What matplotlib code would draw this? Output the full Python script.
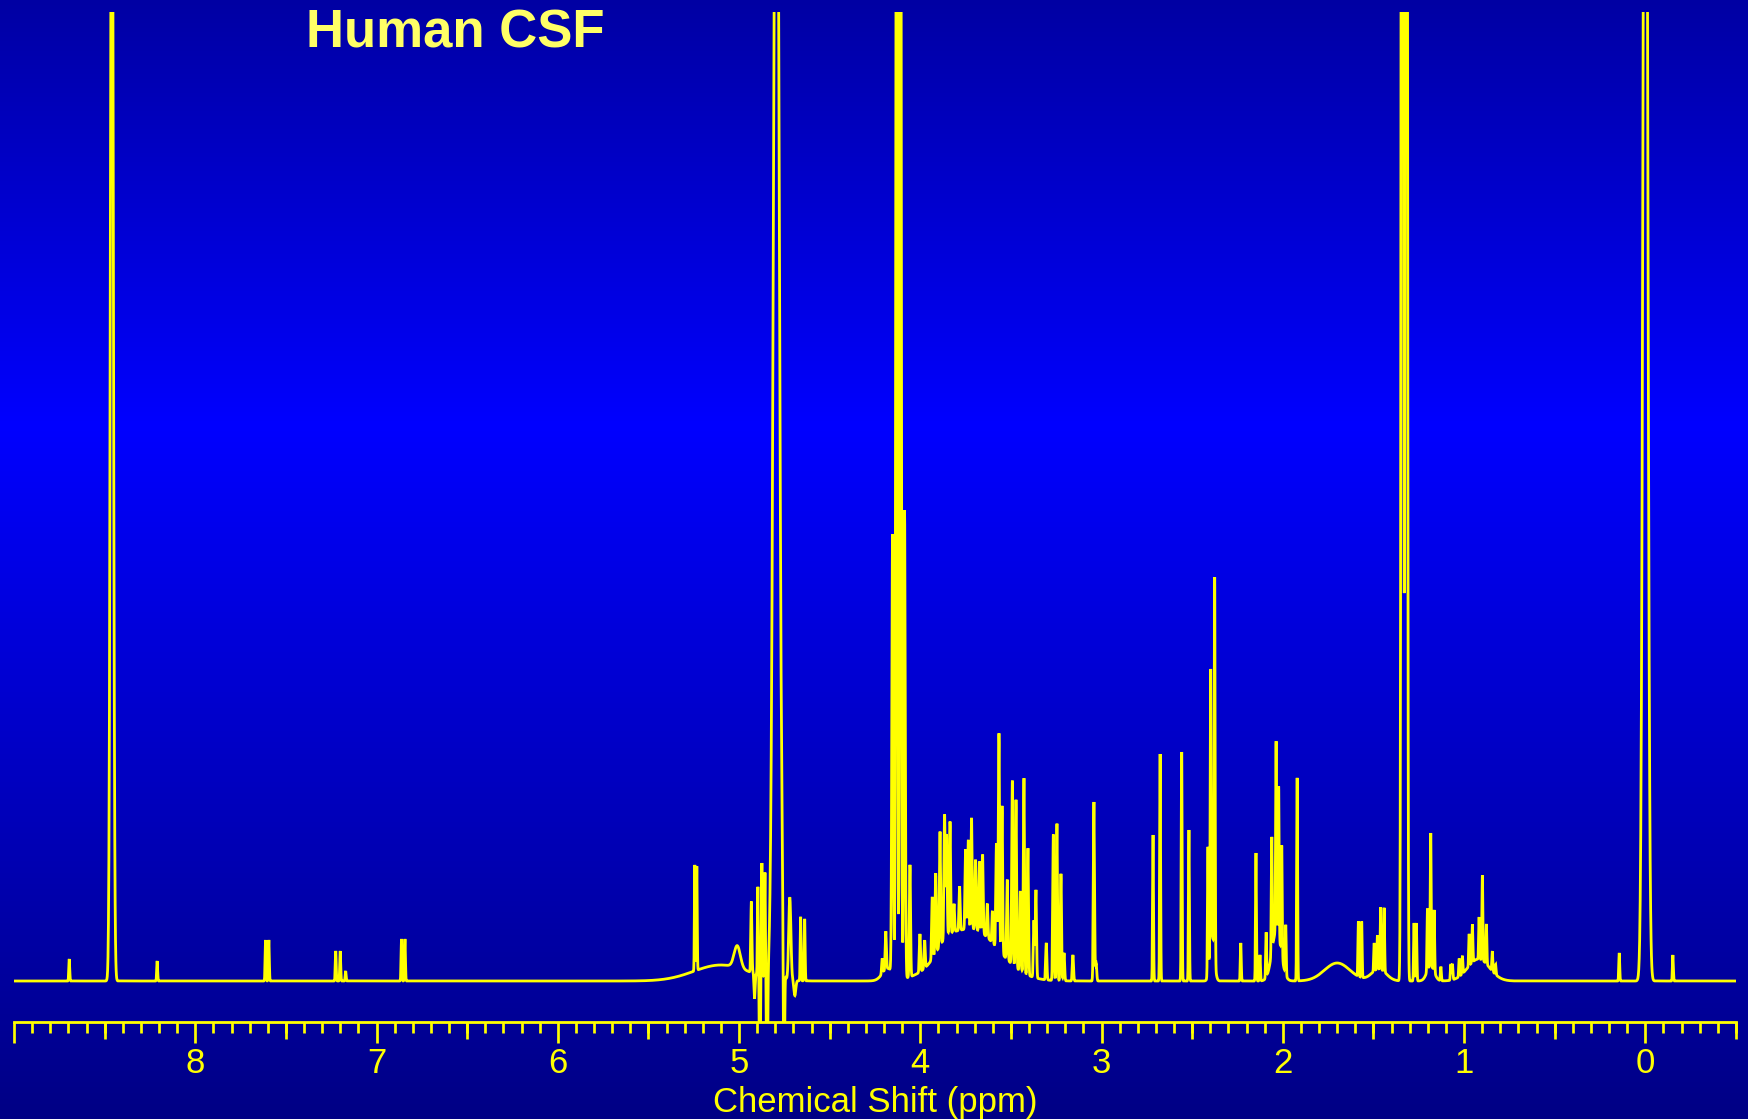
import numpy as np
import matplotlib
matplotlib.use("Agg")
import matplotlib.pyplot as plt
from matplotlib.ticker import FixedLocator, MultipleLocator

# ---------------- data (ppm, intensity, Gaussian width) ----------------
# very intense lines (formate, water, lactate quartet, lactate doublet, TSP)
big_ppm = [8.460, 4.794, 4.153, 4.131, 4.109, 4.087, 1.341, 1.319, 0.000]
big_height = [1310, 1372, 438, 1400, 1400, 468, 3000, 3000, 1650]
big_sigma = [0.0076, 0.015, 0.004, 0.004, 0.004, 0.004, 0.0047, 0.0047, 0.0116]

# aromatic region
arom_ppm = [8.695, 8.210, 7.612, 7.594, 7.225, 7.200, 7.170, 6.862, 6.843]
arom_height = [22, 20, 41, 41, 30, 30, 10, 42, 42]

# anomeric / residual-water region (negative values = suppression artefacts)
anom_ppm = [5.244, 5.233, 4.932, 4.914, 4.896, 4.885, 4.874, 4.857, 4.845,
            4.752, 4.720, 4.692, 4.660, 4.638]
anom_height = [106, 104, 71, -25, 88, -130, 113, 104, -150,
               -170, 83, -15, 64, 62]
anom_sigma = [0.0022, 0.0022, 0.003, 0.003, 0.0025, 0.003, 0.0025, 0.0025, 0.003,
              0.003, 0.006, 0.005, 0.0025, 0.0025]

# 3.0 - 4.25 ppm (sugars, amino acids, creatinine)
mid_ppm = [4.210, 4.190, 4.057, 4.002, 3.976, 3.934, 3.915, 3.891, 3.866, 3.855,
           3.836, 3.814, 3.783, 3.750, 3.735, 3.717, 3.695, 3.673, 3.656, 3.630,
           3.602, 3.580, 3.566, 3.549, 3.520, 3.492, 3.472, 3.448, 3.428, 3.406,
           3.373, 3.362, 3.305, 3.266, 3.246, 3.224, 3.207, 3.158, 3.042, 3.030]
mid_height = [15, 38, 112, 38, 28, 62, 80, 114, 124, 102,
              112, 28, 44, 80, 89, 111, 70, 70, 79, 34,
              32, 104, 217, 148, 80, 184, 168, 80, 195, 127,
              57, 88, 37, 146, 157, 107, 28, 26, 179, 18]

# 0.8 - 2.8 ppm
ali_ppm = [2.716, 2.677, 2.558, 2.518, 2.413, 2.398, 2.376, 2.232, 2.148, 2.126,
           2.092, 2.061, 2.037, 2.023, 2.006, 1.984, 1.921, 1.583, 1.565, 1.496,
           1.478, 1.460, 1.441, 1.276, 1.263, 1.202, 1.184, 1.165, 1.128, 1.073,
           1.064, 1.027, 1.009, 0.972, 0.954, 0.917, 0.899, 0.877, 0.844, 0.826]
ali_height = [146, 227, 229, 151, 127, 276, 381, 38, 128, 26,
              45, 115, 190, 150, 110, 50, 203, 55, 56, 28,
              34, 62, 64, 58, 58, 62, 133, 62, 14, 16,
              16, 18, 18, 32, 38, 42, 85, 40, 20, 10]

# small lines upfield of TSP region
ref_ppm = [0.144, -0.152]
ref_height = [28, 26]

# broad underlying humps
broad_ppm = [5.10, 5.010, 4.180, 3.720, 3.860, 2.390, 2.035, 1.700, 1.470, 1.185, 0.920]
broad_height = [16, 22, 12, 52, 10, 45, 50, 18, 12, 15, 22]
broad_sigma = [0.15, 0.017, 0.030, 0.150, 0.050, 0.012, 0.025, 0.070, 0.040, 0.020, 0.060]

major_ticks = [9, 8, 7, 6, 5, 4, 3, 2, 1, 0]
major_labels = ["", "8", "7", "6", "5", "4", "3", "2", "1", "0"]
half_ticks = [8.5, 7.5, 6.5, 5.5, 4.5, 3.5, 2.5, 1.5, 0.5, -0.5]

title_text = "Human CSF"
xlabel_text = "Chemical Shift (ppm)"

# ---------------- build spectrum ----------------
ppm = np.arange(-0.5, 9.0 + 0.00025, 0.0005)


def gauss_sum(pos, hts, sig):
    pos = np.asarray(pos, float)[None, :]
    hts = np.asarray(hts, float)[None, :]
    sig = np.asarray(sig, float)[None, :]
    return (hts * np.exp(-((ppm[:, None] - pos) ** 2) / (2 * sig ** 2))).sum(axis=1)


SHARP = 0.0025
spec = (gauss_sum(big_ppm, big_height, big_sigma)
        + gauss_sum(arom_ppm, arom_height, [SHARP] * len(arom_ppm))
        + gauss_sum(anom_ppm, anom_height, anom_sigma)
        + gauss_sum(mid_ppm, mid_height, [0.0032] * len(mid_ppm))
        + gauss_sum(ali_ppm, ali_height, [SHARP] * len(ali_ppm))
        + gauss_sum(ref_ppm, ref_height, [SHARP] * len(ref_ppm))
        + gauss_sum(broad_ppm, broad_height, broad_sigma))

# ---------------- figure ----------------
W, H = 1748, 1119
fig = plt.figure(figsize=(W / 100, H / 100), dpi=100)

# background vertical gradient (dark blue -> bright blue -> navy)
bg = fig.add_axes([0, 0, 1, 1])
bg.set_axis_off()
t = np.linspace(0, 1, 600)
blue = np.interp(t, [0.0, 0.38, 1.0], [0.64, 1.0, 0.52])
grad = np.zeros((600, 1, 3))
grad[:, 0, 2] = blue
bg.imshow(grad, aspect="auto", extent=[0, 1, 0, 1], origin="upper", zorder=0)
bg.set_xlim(0, 1)
bg.set_ylim(0, 1)

yellow = "#FFFF00"
left, right = 14 / W, 1736 / W
bottom, top = (H - 1022) / H, (H - 12) / H
ax = fig.add_axes([left, bottom, right - left, top - bottom])
ax.set_facecolor("none")
ax.plot(ppm, spec, color=yellow, lw=2.0, solid_joinstyle="miter")
ax.set_xlim(9.0, -0.5)
ax.set_ylim(-41, 969)

for s in ("top", "left", "right"):
    ax.spines[s].set_visible(False)
ax.spines["bottom"].set_color(yellow)
ax.spines["bottom"].set_linewidth(2.0)
ax.set_yticks([])

ax.xaxis.set_major_locator(FixedLocator(major_ticks))
ax.set_xticklabels(major_labels)
ax.xaxis.set_minor_locator(MultipleLocator(0.1))
ax.tick_params(axis="x", which="major", direction="out", length=14.8, width=1.95,
               color=yellow, labelcolor=yellow, labelsize=25, pad=3.0)
ax.tick_params(axis="x", which="minor", direction="out", length=7.9, width=1.95,
               color=yellow)
for lab in ax.get_xticklabels():
    lab.set_family("Liberation Sans")

sec = ax.secondary_xaxis("bottom")
sec.set_xticks(half_ticks)
sec.tick_params(axis="x", which="major", direction="out", length=12.2, width=1.95,
                color=yellow, labelbottom=False)
sec.spines["bottom"].set_visible(False)

ax.set_xlabel(xlabel_text, color=yellow, fontsize=25, family="Liberation Sans")
ax.xaxis.label.set_va("baseline")
ax.xaxis.set_label_coords(0.5, -(1112 - 1022) / (1022 - 12))

fig.text(455 / W, 1 - 48 / H, title_text, ha="center", va="baseline",
         fontsize=38, fontweight="bold", color="#FFFF66", family="Liberation Sans")

fig.savefig("out.png", dpi=100)
